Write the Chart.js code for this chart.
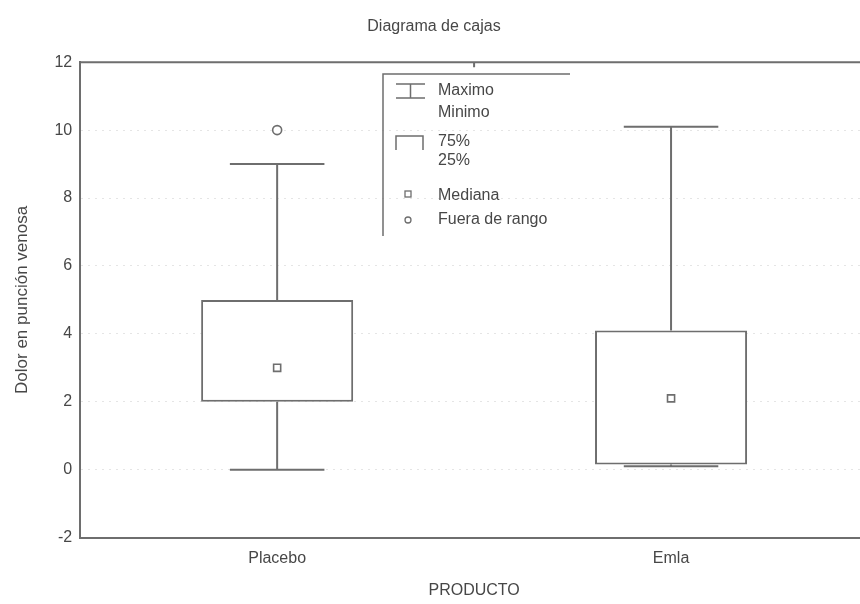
<!DOCTYPE html>
<html>
<head>
<meta charset="utf-8">
<script src="https://cdn.jsdelivr.net/npm/chart.js@4.4.1/dist/chart.umd.min.js"></script>
<style>
  html, body { margin: 0; padding: 0; background: #fff; overflow: hidden; }
  #wrap { width: 860px; height: 604px; overflow: hidden; position: relative; }
  #box { width: 936px; height: 604px; position: absolute; left: 0; top: 0; }
</style>
</head>
<body>
<div id="wrap"><div id="box"><canvas id="c"></canvas></div></div>
<script>
// ---- data ----
const categories = ['Placebo', 'Emla'];
const maximo  = [9, 10.1];
const q3      = [5, 4.1];
const mediana = [3, 2.1];
const q1      = [2, 0.15];
const minimo  = [0, 0.1];
const outliers = [{ x: 'Placebo', y: 10 }];
const yTicks = [-2, 0, 2, 4, 6, 8, 10, 12];
const legendLabels = [['Maximo', 'Minimo'], ['75%', '25%'], ['Mediana'], ['Fuera de rango']];

const LINE = '#6e6e6e';
const TEXT = '#474747';
const FONT = "'Liberation Sans', Arial, sans-serif";

const whiskerPlugin = {
  id: 'whiskers',
  beforeDatasetsDraw(chart) {
    const { ctx, scales: { x, y } } = chart;
    const catW = x.getPixelForValue(1) - x.getPixelForValue(0);
    const capHalf = catW * 0.12;
    ctx.save();
    ctx.strokeStyle = LINE;
    ctx.lineWidth = 2;
    categories.forEach((c, i) => {
      const cx = x.getPixelForValue(i);
      const yMax = y.getPixelForValue(maximo[i]);
      const yQ3 = y.getPixelForValue(q3[i]);
      const yQ1 = y.getPixelForValue(q1[i]);
      const yMin = y.getPixelForValue(minimo[i]);
      ctx.beginPath();
      ctx.moveTo(cx, yMax); ctx.lineTo(cx, yQ3);
      ctx.moveTo(cx, yQ1); ctx.lineTo(cx, yMin);
      ctx.moveTo(cx - capHalf, yMax); ctx.lineTo(cx + capHalf, yMax);
      ctx.moveTo(cx - capHalf, yMin); ctx.lineTo(cx + capHalf, yMin);
      ctx.stroke();
    });
    ctx.restore();
  },
  afterDraw(chart) {
    const { ctx, chartArea: a, scales: { x } } = chart;
    ctx.save();
    ctx.strokeStyle = LINE;
    ctx.lineWidth = 2;
    // top frame line
    ctx.beginPath();
    ctx.moveTo(a.left, a.top); ctx.lineTo(a.right, a.top);
    ctx.moveTo(a.right, a.top); ctx.lineTo(a.right, a.bottom);
    // mid tick at top
    const mid = (x.getPixelForValue(0) + x.getPixelForValue(1)) / 2;
    ctx.moveTo(mid, a.top); ctx.lineTo(mid, a.top + 5);
    ctx.stroke();

    // legend box
    ctx.lineWidth = 1.5;
    ctx.beginPath();
    ctx.moveTo(383, 236); ctx.lineTo(383, 74); ctx.lineTo(570, 74);
    ctx.stroke();
    // whisker symbol
    ctx.beginPath();
    ctx.moveTo(396, 84); ctx.lineTo(425, 84);
    ctx.moveTo(410.5, 84); ctx.lineTo(410.5, 98);
    ctx.moveTo(396, 98); ctx.lineTo(425, 98);
    // box symbol
    ctx.moveTo(396, 150); ctx.lineTo(396, 136); ctx.lineTo(423, 136); ctx.lineTo(423, 150);
    ctx.stroke();
    // median symbol
    ctx.lineWidth = 1.3;
    ctx.strokeRect(405, 191, 6, 6);
    // outlier symbol
    ctx.beginPath();
    ctx.arc(408, 220, 3, 0, Math.PI * 2);
    ctx.stroke();

    ctx.fillStyle = TEXT;
    ctx.font = '16px ' + FONT;
    ctx.textBaseline = 'middle';
    ctx.textAlign = 'left';
    ctx.fillText(legendLabels[0][0], 438, 91);
    ctx.fillText(legendLabels[0][1], 438, 113);
    ctx.fillText(legendLabels[1][0], 438, 142);
    ctx.fillText(legendLabels[1][1], 438, 161);
    ctx.fillText(legendLabels[2][0], 438, 196);
    ctx.fillText(legendLabels[3][0], 438, 220);
    ctx.restore();
  }
};

new Chart(document.getElementById('c'), {
  type: 'bar',
  data: {
    labels: categories,
    datasets: [
      {
        type: 'bar',
        label: 'Caja',
        data: categories.map((c, i) => [q1[i], q3[i]]),
        backgroundColor: '#ffffff',
        borderColor: LINE,
        borderWidth: 2,
        borderSkipped: false,
        barPercentage: 0.386,
        categoryPercentage: 1,
        order: 3
      },
      {
        type: 'line',
        label: 'Mediana',
        data: mediana,
        showLine: false,
        pointStyle: 'rect',
        pointRadius: 5,
        pointBackgroundColor: '#ffffff',
        pointBorderColor: LINE,
        pointBorderWidth: 1.6,
        order: 1
      },
      {
        type: 'line',
        label: 'Fuera de rango',
        data: outliers,
        showLine: false,
        pointStyle: 'circle',
        pointRadius: 4.5,
        pointBackgroundColor: '#ffffff',
        pointBorderColor: LINE,
        pointBorderWidth: 1.6,
        order: 0
      }
    ]
  },
  options: {
    responsive: true,
    maintainAspectRatio: false,
    animation: false,
    events: [],
    layout: { padding: { left: 0, right: 68, top: 0, bottom: 0 } },
    plugins: {
      legend: { display: false },
      tooltip: { enabled: false },
      title: {
        display: true,
        text: 'Diagrama de cajas',
        color: TEXT,
        font: { family: FONT, size: 16, weight: 'normal' },
        padding: { top: 17, bottom: 26 }
      }
    },
    scales: {
      x: {
        type: 'category',
        offset: true,
        grid: { display: false, drawTicks: false },
        border: { display: true, color: LINE, width: 2 },
        ticks: { color: TEXT, font: { family: FONT, size: 16 }, padding: 11 },
        title: {
          display: true,
          text: 'PRODUCTO',
          color: TEXT,
          font: { family: FONT, size: 16 },
          padding: { top: 2, bottom: 4 }
        }
      },
      y: {
        min: -2,
        max: 12,
        afterBuildTicks(scale) { scale.ticks = yTicks.map(v => ({ value: v })); },
        grid: { color: 'rgba(0,0,0,0.10)', drawTicks: false, lineWidth: 1 },
        border: { display: true, color: LINE, width: 2, dash: [2, 5] },
        ticks: { color: TEXT, font: { family: FONT, size: 16 }, padding: 8 },
        title: {
          display: true,
          text: 'Dolor en punción venosa',
          color: TEXT,
          font: { family: FONT, size: 17 },
          padding: { top: 12, bottom: 14 }
        }
      }
    }
  },
  plugins: [whiskerPlugin]
});
</script>
</body>
</html>
